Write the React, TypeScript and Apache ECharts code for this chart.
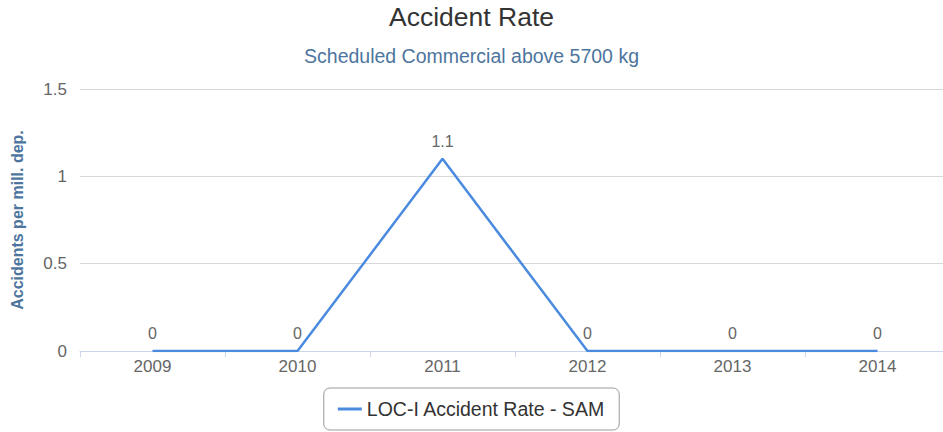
import React, { useEffect, useRef } from "react";
import * as echarts from "echarts";

const categories = ["2009", "2010", "2011", "2012", "2013", "2014"];
const rateValues = [0, 0, 1.1, 0, 0, 0];
const seriesName = "LOC-I Accident Rate - SAM";
const titleText = "Accident Rate";
const subtitleText = "Scheduled Commercial above 5700 kg";
const yAxisName = "Accidents per mill. dep.";

const FONT = "'Liberation Sans', Arial, sans-serif";
const LINE_COLOR = "#4a8be0";

export default function App() {
  const ref = useRef<HTMLDivElement>(null);
  useEffect(() => {
    if (!ref.current) return;
    const chart = echarts.init(ref.current, undefined, { renderer: "svg" });
    chart.setOption({
      animation: false,
      backgroundColor: "#ffffff",
      title: [
        {
          text: titleText,
          left: "center",
          top: 3,
          padding: 0,
          textStyle: { fontFamily: FONT, fontSize: 26.5, fontWeight: "normal", color: "#333333" },
        },
        {
          text: subtitleText,
          left: "center",
          top: 46,
          padding: 0,
          textStyle: { fontFamily: FONT, fontSize: 19.5, fontWeight: "normal", color: "#4d759e" },
        },
      ],
      legend: {
        bottom: 2,
        left: "center",
        data: [
          {
            name: seriesName,
            icon: "rect",
            itemStyle: { color: LINE_COLOR, opacity: 1, borderWidth: 0 },
          },
        ],
        borderColor: "#999999",
        borderWidth: 1,
        borderRadius: 6,
        padding: [11, 14, 11, 14],
        itemWidth: 24,
        itemHeight: 3,
        itemGap: 8,
        textStyle: { fontFamily: FONT, fontSize: 19.5, color: "#333333" },
      },
      grid: {
        left: 80,
        width: 870,
        top: 89,
        bottom: 81,
        containLabel: false,
        outerBoundsMode: "none",
      },
      xAxis: {
        type: "category",
        data: categories,
        boundaryGap: true,
        axisLine: { show: true, lineStyle: { color: "#ccd6eb", width: 1 } },
        axisTick: { show: true, alignWithLabel: false, length: 6, lineStyle: { color: "#ccd6eb" } },
        axisLabel: { fontFamily: FONT, fontSize: 17, color: "#666666", margin: 7 },
        splitLine: { show: false },
      },
      yAxis: {
        type: "value",
        min: 0,
        max: 1.5,
        interval: 0.5,
        name: yAxisName,
        nameLocation: "middle",
        nameGap: 55,
        nameTextStyle: { fontFamily: FONT, fontSize: 16, fontWeight: "bold", color: "#4d759e" },
        axisLine: { show: false },
        axisTick: { show: false },
        axisLabel: {
          fontFamily: FONT,
          fontSize: 17,
          color: "#666666",
          margin: 13,
          formatter: (v: number) => String(v),
        },
        splitLine: {
          show: true,
          lineStyle: { color: "#d8d8d8", width: 1 },
          showMinLine: false,
        },
      },
      series: [
        {
          name: seriesName,
          type: "line",
          data: rateValues,
          symbol: "circle",
          symbolSize: 0.01,
          showSymbol: true,
          lineStyle: { color: LINE_COLOR, width: 2.5 },
          itemStyle: { color: LINE_COLOR },
          label: {
            show: true,
            position: "top",
            distance: 9,
            fontFamily: FONT,
            fontSize: 16,
            color: "#666666",
          },
        },
      ],
    });
    return () => chart.dispose();
  }, []);
  return (
    <div
      ref={ref}
      style={{ position: "fixed", left: 0, top: 0, width: 943, height: 432, background: "#fff" }}
    />
  );
}
